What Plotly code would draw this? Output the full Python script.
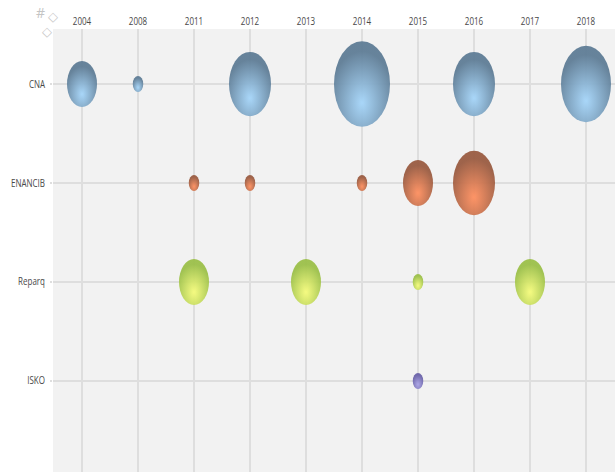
import plotly.graph_objects as go

years = ["2004", "2008", "2011", "2012", "2013", "2014", "2015", "2016", "2017", "2018"]
venues = ["CNA", "ENANCIB", "Reparq", "ISKO"]

cna_years = ["2004", "2008", "2012", "2014", "2016", "2018"]
cna_values = [3, 1.05, 4.2, 5.6, 4.2, 5]
enancib_years = ["2011", "2012", "2014", "2015", "2016"]
enancib_values = [1.05, 1.05, 1.05, 3, 4.2]
reparq_years = ["2011", "2013", "2015", "2017"]
reparq_values = [3, 3, 1.05, 3]
isko_years = ["2015"]
isko_values = [1.05]

fig = go.Figure()


def add_series(name, xs, vals, edge, glow):
    fig.add_trace(go.Scatter(
        x=xs, y=[name] * len(xs), mode="markers", name=name,
        marker=dict(
            size=vals, sizemode="diameter", sizeref=0.1, opacity=0.95,
            color=edge, line=dict(width=0),
            gradient=dict(type="radial", color=glow),
        ),
    ))


add_series("CNA", cna_years, cna_values, "#5f7d96", "#a6d6fa")
add_series("ENANCIB", enancib_years, enancib_values, "#9a5c42", "#ff9060")
add_series("Reparq", reparq_years, reparq_values, "#9cc04a", "#f6fc7c")
add_series("ISKO", isko_years, isko_values, "#6a62a8", "#aaa4e6")

font = dict(family="Open Sans", size=10, color="#484848")
fig.update_layout(
    width=615, height=472, margin=dict(l=53, r=0, t=29, b=0),
    paper_bgcolor="#ffffff", plot_bgcolor="#f2f2f2", showlegend=False,
    xaxis=dict(type="category", categoryorder="array", categoryarray=years,
               side="top", range=[-0.518, 9.518], showgrid=True, automargin=False,
               gridcolor="#dedede", gridwidth=1.5, zeroline=False, showline=False,
               ticks="", tickfont=font, tickangle=0, ticklabelstandoff=1),
    yaxis=dict(type="category", categoryorder="array", categoryarray=venues,
               range=[3.92, -0.556], showgrid=True, automargin=False,
               gridcolor="#dedede", gridwidth=1.5, zeroline=False, showline=False,
               ticks="outside", ticklen=2, tickcolor="#dedede", tickwidth=1.5,
               tickfont=font, ticklabelstandoff=3),
    annotations=[
        dict(text="#", xref="paper", yref="paper", x=0, y=1, xshift=-19, yshift=28,
             showarrow=False, font=dict(family="Open Sans", size=14, color="#c4c4c4")),
        dict(text="◇", xref="paper", yref="paper", x=0, y=1, xshift=-7, yshift=22,
             showarrow=False, font=dict(family="DejaVu Sans", size=13, color="#c8c8c8")),
        dict(text="◇", xref="paper", yref="paper", x=0, y=1, xshift=-13, yshift=7,
             showarrow=False, font=dict(family="DejaVu Sans", size=13, color="#c8c8c8")),
    ],
)

post = """
document.body.style.margin = '0';
document.querySelectorAll('.scatterlayer .point').forEach(function (p) {
  var t = p.getAttribute('transform') || '';
  if (t.indexOf('scale') < 0) p.setAttribute('transform', t + ' scale(1,1.53)');
});
document.querySelectorAll('radialGradient').forEach(function (g) {
  g.setAttribute('cx', '0.5'); g.setAttribute('cy', '0.72');
  g.setAttribute('fx', '0.5'); g.setAttribute('fy', '0.72');
  g.setAttribute('r', '0.6');
});
document.querySelectorAll('.xtick text, .ytick text').forEach(function (t) {
  var w = t.getComputedTextLength();
  t.setAttribute('textLength', (w * 0.8).toFixed(1));
  t.setAttribute('lengthAdjust', 'spacingAndGlyphs');
});
"""
fig.write_html("out.html", post_script=post, config={"displayModeBar": False})
